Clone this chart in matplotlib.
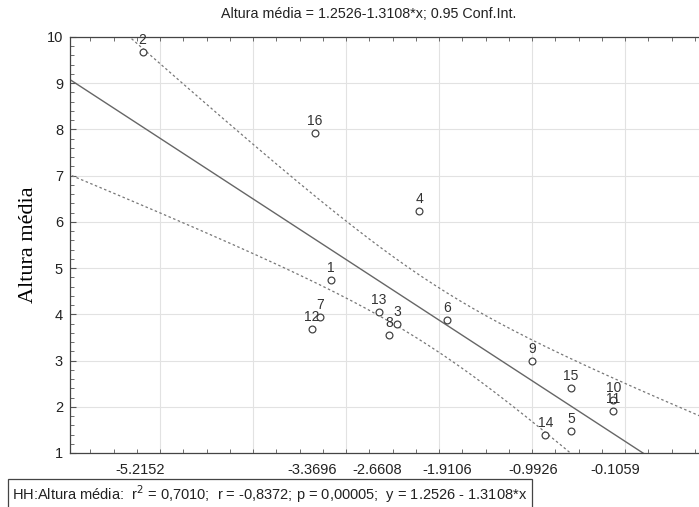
import numpy as np
import matplotlib.pyplot as plt
from matplotlib.ticker import MultipleLocator

# point data (x = log-ish predictor, y = altura media)
labels = ["1", "2", "3", "4", "5", "6", "7", "8", "9", "10", "11", "12", "13", "14", "15", "16"]
x_vals = [-3.16, -5.19, -2.455, -2.215, -0.58, -1.917, -3.28, -2.54, -1.00,
          -0.126, -0.126, -3.37, -2.65, -0.857, -0.58, -3.34]
y_vals = [4.74, 9.68, 3.79, 6.24, 1.48, 3.88, 3.95, 3.55, 3.00,
          2.15, 1.91, 3.68, 4.05, 1.40, 2.40, 7.93]

intercept = 1.2526
slope = -1.3108

tick_pos = [-5.2152, -3.3696, -2.6608, -1.9106, -0.9926, -0.1059]
tick_lbl = ["-5.2152", "-3.3696", "-2.6608", "-1.9106", "-0.9926", "-0.1059"]
grid_x = [-5, -4, -3, -2, -1, 0]

x = np.array(x_vals)
y = np.array(y_vals)
n = len(x)

# 95% confidence band for the mean
t_crit = 2.145
resid = y - (intercept + slope * x)
s = np.sqrt(np.sum(resid ** 2) / (n - 2))
xm = x.mean()
sxx = np.sum((x - xm) ** 2)
xs = np.linspace(-6.0, 1.0, 200)
yfit = intercept + slope * xs
half = t_crit * s * np.sqrt(1.0 / n + (xs - xm) ** 2 / sxx)

plt.rcParams['font.family'] = ['Liberation Sans', 'DejaVu Sans']

fig = plt.figure(figsize=(6.99, 5.07), dpi=100)
ax = fig.add_axes([70 / 699, 54 / 507, 648 / 699, 416 / 507])

for gx in grid_x:
    ax.axvline(gx, color='#e2e2e2', lw=0.8, zorder=0)
ax.grid(axis='y', color='#e2e2e2', lw=0.8, zorder=0)

ax.plot(xs, yfit, color='#666666', lw=1.0, zorder=2)
ax.plot(xs, yfit + half, color='#777777', lw=0.9, ls=(0, (2, 2)), zorder=2)
ax.plot(xs, yfit - half, color='#777777', lw=0.9, ls=(0, (2, 2)), zorder=2)

ax.scatter(x, y, s=24, facecolors='white', edgecolors='#444444', linewidths=0.9, zorder=3)
for lb, xi, yi in zip(labels, x, y):
    ax.annotate(lb, (xi, yi), xytext=(0, 3.5), textcoords='offset points',
                ha='center', va='bottom', fontsize=10, color='#333333', zorder=4)

ax.set_xlim(-5.97, 1.0)
ax.set_ylim(1, 10)
ax.set_xticks(tick_pos)
ax.set_xticklabels(tick_lbl)
ax.xaxis.set_minor_locator(MultipleLocator(0.25))
ax.yaxis.set_major_locator(MultipleLocator(1))
ax.yaxis.set_minor_locator(MultipleLocator(0.2))
ax.tick_params(which='both', direction='in', top=True, right=False,
               colors='#555555', labelcolor='#222222', labelsize=10.5)
ax.tick_params(which='major', length=0)
ax.tick_params(axis='y', which='major', length=4, pad=5)
ax.tick_params(which='minor', length=3)
ax.tick_params(axis='x', pad=7)
for sp in ax.spines.values():
    sp.set_color('#444444')
    sp.set_linewidth(0.9)

ax.set_ylabel("Altura média", family=['Liberation Serif', 'DejaVu Serif'],
              fontsize=16, labelpad=6)
fig.text(369 / 699, 1 - 14 / 507, "Altura média = 1.2526-1.3108*x; 0.95 Conf.Int.",
         ha='center', va='center', fontsize=10.3, color='#222222')

fig.text(12 / 699, 1 - 494 / 507,
         "HH:Altura média:  r$^2$ = 0,7010;  r = -0,8372; p = 0,00005;  y = 1.2526 - 1.3108*x",
         ha='left', va='center', fontsize=10.5, color='#222222',
         bbox=dict(boxstyle='square,pad=0.3', fc='white', ec='#444444', lw=0.9))

fig.savefig("out.png", dpi=100)
